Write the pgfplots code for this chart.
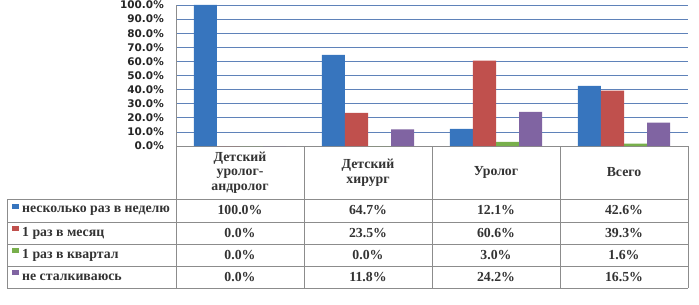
\documentclass[border=0pt]{standalone}
\usepackage{pgfplots}
\pgfplotsset{compat=1.18}
\usepackage{fontspec}
\setmainfont{Liberation Serif}
\newfontfamily\tickfont{DejaVu Sans}
\definecolor{sBlue}{RGB}{55,117,190}
\definecolor{sRed}{RGB}{192,80,77}
\definecolor{sGreen}{RGB}{120,175,75}
\definecolor{sPurple}{RGB}{128,100,162}
\definecolor{gridc}{RGB}{95,130,185}
\definecolor{tabc}{RGB}{140,140,140}
\begin{document}
\begin{tikzpicture}[x=1bp,y=1bp]
\path[use as bounding box] (0,0) rectangle (699,304);
\begin{axis}[
  at={(176bp,158bp)}, anchor=south west,
  scale only axis, width=512bp, height=141bp,
  ybar=0pt, bar width=0.18,
  xmin=-0.5, xmax=3.5, ymin=0, ymax=100,
  xtick=\empty,
  ytick={0,10,...,100},
  yticklabels={0.0\%,10.0\%,20.0\%,30.0\%,40.0\%,50.0\%,60.0\%,70.0\%,80.0\%,90.0\%,100.0\%},
  yticklabel style={font=\fontsize{10.5bp}{12bp}\selectfont\tickfont\bfseries, text=black!85, inner sep=0bp, xshift=-12bp},
  ytick style={draw=none},
  ymajorgrids, grid style={draw=gridc, line width=0.8bp},
  axis x line*=bottom, axis y line*=left,
  axis line style={draw=tabc, line width=0.8bp},
  clip=false,
]
\addplot[fill=sBlue, draw=none] coordinates {(0,100) (1,64.7) (2,12.1) (3,42.6)};
\addplot[fill=sRed, draw=none] coordinates {(0,0) (1,23.5) (2,60.6) (3,39.3)};
\addplot[fill=sGreen, draw=none] coordinates {(0,0) (1,0) (2,3.0) (3,1.6)};
\addplot[fill=sPurple, draw=none] coordinates {(0,0) (1,11.8) (2,24.2) (3,16.5)};
\end{axis}
% table grid
\begin{scope}[draw=tabc, line width=0.8bp]
\foreach \x in {176,304,432,560,688} \draw (\x,158) -- (\x,16);
\draw (7,105) -- (7,16);
\foreach \y in {105,82,60,38,16} \draw (7,\y) -- (688,\y);
\end{scope}
\begin{scope}[font=\fontsize{13.8bp}{14.5bp}\selectfont\bfseries, text=black!80]
\node[align=center] at (240,131.5) {Детский\\уролог-\\андролог};
\node[align=center] at (368,131.5) {Детский\\хирург};
\node at (496,131.5) {Уролог};
\node at (624,131.5) {Всего};
% row labels
\fill[sBlue] (12,95) rectangle (19,100);
\fill[sRed] (12,73) rectangle (19,78);
\fill[sGreen] (12,51) rectangle (19,56);
\fill[sPurple] (12,29) rectangle (19,34);
\node[anchor=west, inner sep=0] at (22,93.5) {несколько раз в неделю};
\node[anchor=west, inner sep=0] at (22,71) {1 раз в месяц};
\node[anchor=west, inner sep=0] at (22,49) {1 раз в квартал};
\node[anchor=west, inner sep=0] at (22,27) {не сталкиваюсь};
% values
\node at (240,93.5) {100.0\%}; \node at (368,93.5) {64.7\%}; \node at (496,93.5) {12.1\%}; \node at (624,93.5) {42.6\%};
\node at (240,71) {0.0\%}; \node at (368,71) {23.5\%}; \node at (496,71) {60.6\%}; \node at (624,71) {39.3\%};
\node at (240,49) {0.0\%}; \node at (368,49) {0.0\%}; \node at (496,49) {3.0\%}; \node at (624,49) {1.6\%};
\node at (240,27) {0.0\%}; \node at (368,27) {11.8\%}; \node at (496,27) {24.2\%}; \node at (624,27) {16.5\%};
\end{scope}
\end{tikzpicture}
\end{document}
